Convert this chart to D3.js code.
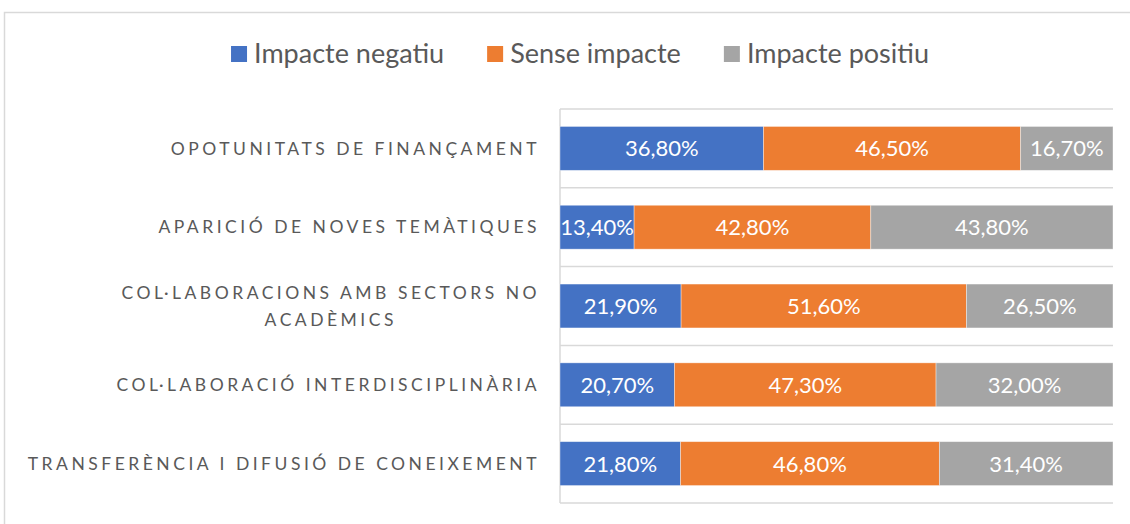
<!DOCTYPE html>
<html>
<head>
<meta charset="utf-8">
<script src="https://cdn.jsdelivr.net/npm/d3@7"></script>
<style>
  body { margin: 0; background: #fff; }
  svg { display: block; font-family: Lato, 'Open Sans', sans-serif; }
</style>
</head>
<body>
<svg id="chart"></svg>
<script>
const categories = [
  'OPOTUNITATS DE FINANÇAMENT',
  'APARICIÓ DE NOVES TEMÀTIQUES',
  'COL·LABORACIONS AMB SECTORS NO\nACADÈMICS',
  'COL·LABORACIÓ INTERDISCIPLINÀRIA',
  'TRANSFERÈNCIA I DIFUSIÓ DE CONEIXEMENT'
]
const seriesNames = ['Impacte negatiu', 'Sense impacte', 'Impacte positiu']
const negatiu = [36.8, 13.4, 21.9, 20.7, 21.8]
const senseImpacte = [46.5, 42.8, 51.6, 47.3, 46.8]
const positiu = [16.7, 43.8, 26.5, 32.0, 31.4]
const colors = ['#4472C4', '#ED7D31', '#A5A5A5']

const width = 1130
const height = 524
const margin = { top: 109, right: 17, bottom: 21, left: 560 }

const svg = d3.select('#chart')
  .attr('width', width)
  .attr('height', height)

// chart frame (runs off the right and bottom edges like the source)
svg.append('rect')
  .attr('x', 4.5).attr('y', 12.5)
  .attr('width', width + 20).attr('height', height)
  .attr('fill', '#fff')
  .attr('stroke', '#d9d9d9')
  .attr('stroke-width', 1.5)

const rows = categories.map((c, i) => ({
  cat: c,
  values: [negatiu[i], senseImpacte[i], positiu[i]]
}))

const x = d3.scaleLinear()
  .domain([0, 100])
  .range([margin.left, width - margin.right])

const pad = 0.443
const y = d3.scaleBand()
  .domain(categories)
  .range([margin.top, height - margin.bottom])
  .paddingInner(pad)
  .paddingOuter(pad / 2)

const step = y.step()

// category gridlines
const grid = svg.append('g')
const bounds = categories.map(c => y(c) - step * pad / 2)
bounds.push(height - margin.bottom)
grid.selectAll('line')
  .data(bounds)
  .join('line')
  .attr('x1', margin.left).attr('x2', width - margin.right)
  .attr('y1', d => d).attr('y2', d => d)
  .attr('stroke', '#d9d9d9')
  .attr('stroke-width', 1.5)

svg.append('line')
  .attr('x1', margin.left).attr('x2', margin.left)
  .attr('y1', margin.top).attr('y2', height - margin.bottom)
  .attr('stroke', '#d9d9d9')
  .attr('stroke-width', 1.5)

// stacked segments
const segs = []
rows.forEach(r => {
  let acc = 0
  r.values.forEach((v, k) => {
    segs.push({ cat: r.cat, k, v, x0: acc, x1: acc + v })
    acc += v
  })
})

const bars = svg.append('g')
bars.selectAll('rect')
  .data(segs)
  .join('rect')
  .attr('x', d => x(d.x0))
  .attr('width', d => x(d.x1) - x(d.x0))
  .attr('y', d => y(d.cat))
  .attr('height', y.bandwidth())
  .attr('fill', d => colors[d.k])
  .attr('stroke', '#fff')
  .attr('stroke-opacity', 0.5)
  .attr('stroke-width', 0.75)

const fmt = v => v.toFixed(2).replace('.', ',') + '%'

bars.selectAll('text')
  .data(segs)
  .join('text')
  .attr('x', d => (x(d.x0) + x(d.x1)) / 2)
  .attr('y', d => y(d.cat) + y.bandwidth() / 2)
  .attr('dy', '0.36em')
  .attr('text-anchor', 'middle')
  .attr('fill', '#fff')
  .attr('font-size', 22)
  .text(d => fmt(d.v))

// category labels, right aligned block, lines centred to each other
const labels = svg.append('g')
categories.forEach(c => {
  const lines = c.split('\n')
  const g = labels.append('g')
  const lh = 27
  const cy = y(c) + y.bandwidth() / 2
  const texts = lines.map((ln, i) => g.append('text')
    .attr('y', cy + (i - (lines.length - 1) / 2) * lh)
    .attr('dy', '0.35em')
    .attr('fill', '#595959')
    .attr('font-size', 17.5)
    .attr('letter-spacing', '3.5px')
    .text(ln))
  const w = d3.max(texts, t => t.node().getComputedTextLength())
  const right = margin.left - 20
  texts.forEach(t => {
    t.attr('text-anchor', 'middle').attr('x', right - w / 2)
  })
})

// legend
const legend = svg.append('g')
let lx = 0
const items = seriesNames.map((name, i) => {
  const g = legend.append('g').attr('transform', `translate(${lx},0)`)
  g.append('rect')
    .attr('x', 0).attr('y', -8)
    .attr('width', 16).attr('height', 16)
    .attr('fill', colors[i])
  const t = g.append('text')
    .attr('x', 23)
    .attr('dy', '0.35em')
    .attr('fill', '#595959')
    .attr('font-size', 27)
    .text(name)
  lx += 23 + t.node().getComputedTextLength() + 43
  return g
})
const legendW = lx - 43
legend.attr('transform', `translate(${580 - legendW / 2},54)`)
</script>
</body>
</html>
